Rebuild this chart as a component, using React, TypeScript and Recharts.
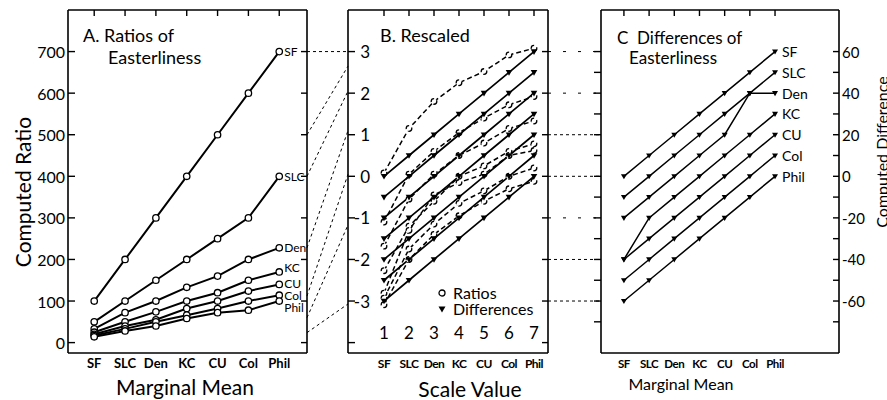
import React from "react";
import { LineChart, Line, XAxis, YAxis, ReferenceLine, LabelList } from "recharts";

const cities = ["SF", "SLC", "Den", "KC", "CU", "Col", "Phil"];
const steps = [1, 2, 3, 4, 5, 6, 7];

// A. computed ratios, one list per labelled line (SF ... Phil)
const ratioLines = [
  [100, 200, 300, 400, 500, 600, 700],
  [50, 100, 150, 200, 250, 300, 400],
  [33, 72, 100, 133, 160, 200, 228],
  [25, 50, 74, 100, 120, 150, 170],
  [20, 40, 55, 82, 100, 124, 140],
  [17, 33, 50, 66, 82, 100, 114],
  [14, 28, 40, 58, 72, 78, 100],
];
const ratioTicks = [0, 100, 200, 300, 400, 500, 600, 700];

// B. both sets rescaled
const rescaledRatios = [
  [0.08, 1.15, 1.8, 2.25, 2.52, 2.92, 3.08],
  [-1.1, 0.05, 0.6, 1.05, 1.4, 1.72, 1.92],
  [-1.68, -0.55, 0.05, 0.5, 0.8, 1.15, 1.33],
  [-2.27, -1.2, -0.6, 0.0, 0.25, 0.6, 0.78],
  [-2.81, -1.3, -0.45, -0.15, 0.05, 0.5, 0.62],
  [-2.93, -1.75, -1.15, -0.65, -0.35, 0.0, 0.2],
  [-3.09, -2.0, -1.4, -0.95, -0.6, -0.3, -0.12],
];
const rescaledDiffs = [
  [0, 0.5, 1, 1.5, 2, 2.5, 3],
  [-0.5, 0, 0.5, 1, 1.5, 2, 2.5],
  [-1, -0.5, 0, 0.5, 1, 1.5, 2],
  [-1.5, -1, -0.5, 0, 0.5, 1, 1.5],
  [-2, -1.5, -1, -0.5, 0, 0.5, 1],
  [-2.5, -2, -1.5, -1, -0.5, 0, 0.5],
  [-3, -2.5, -2, -1.5, -1, -0.5, 0],
];
const scaleTicks = [-4, -3, -2, -1, 0, 1, 2, 3];

// C. computed differences
const diffLines = [
  [0, 10, 20, 30, 40, 50, 60],
  [-10, 0, 10, 20, 30, 40, 50],
  [-20, -10, 0, 10, 20, 40, 40],
  [-40, -20, -10, 0, 10, 20, 30],
  [-40, -30, -20, -10, 0, 10, 20],
  [-50, -40, -30, -20, -10, 0, 10],
  [-60, -50, -40, -30, -20, -10, 0],
];
const diffTicks = [-70, -60, -50, -40, -30, -20, -10, 0, 10, 20, 30, 40, 50, 60];
const diffLabelTicks = [-60, -40, -20, 0, 20, 40, 60];

// dashed guides: ratio in A -> scale value in B
const guideFrom = [700, 500, 400, 228, 112, 60, 24];
const guideTo = [3, 2.65, 2.05, 1.1, 0.05, -1.17, -3.07];
// dashed guides: scale value in B -> difference in C
const guideLevels = [3, 2, 1, 0, -1, -2, -3];

const FONT = "Lato, 'DejaVu Sans', sans-serif";
const frame = { stroke: "#000", strokeWidth: 1.6 };

// plot box of each panel inside its own svg
const boxA = { top: 10, right: 43, bottom: 47, left: 68 };
const boxB = { top: 10, right: 53, bottom: 47, left: 18 };
const boxC = { top: 10, right: 48, bottom: 47, left: 11 };
// axes need a non-zero size to be drawn, so 1px is taken from each margin
const shrink = (m: typeof boxA) => ({ top: m.top - 1, right: m.right - 1, bottom: m.bottom - 1, left: m.left - 1 });

const toRows = (sets: Record<string, number[][]>) =>
  steps.map((x, i) => {
    const row: Record<string, number> = { x };
    Object.entries(sets).forEach(([p, lines]) => lines.forEach((l, k) => (row[p + k] = l[i])));
    return row;
  });

const rowsA = toRows({ s: ratioLines });
const rowsB = toRows({ r: rescaledRatios, d: rescaledDiffs });
const rowsC = toRows({ s: diffLines });

const tickLine = (x1: number, y1: number, x2: number, y2: number) => (
  <line x1={x1} y1={y1} x2={x2} y2={y2} stroke="#000" strokeWidth={1.4} />
);

const TopTick = (p: any) => <g>{tickLine(p.x, p.y, p.x, p.y + 6)}</g>;
const RightTick = (p: any) => <g>{tickLine(p.x - 6, p.y, p.x, p.y)}</g>;

const LeftTickA = (p: any) => (
  <g>
    {tickLine(boxA.left, p.y, boxA.left + 7, p.y)}
    <text x={boxA.left - 3} y={p.y} textAnchor="end" dominantBaseline="central" fontSize={16} fontFamily={FONT}>
      {p.payload.value}
    </text>
  </g>
);
const BottomA = (p: any) => (
  <text x={p.x} y={p.y + 10} textAnchor="middle" dominantBaseline="central" fontSize={13} fontWeight="bold" fontFamily={FONT}>
    {cities[p.payload.value - 1]}
  </text>
);

const LeftTickB = (p: any) => (
  <g>
    {tickLine(boxB.left, p.y, boxB.left + 7, p.y)}
    {p.payload.value >= -3 && (
      <text x={boxB.left + 22} y={p.y} textAnchor="end" dominantBaseline="central" fontSize={17} fontFamily={FONT}>
        {p.payload.value}
      </text>
    )}
  </g>
);
const BottomB = (p: any) => (
  <g>
    <text x={p.x} y={p.y - 21} textAnchor="middle" dominantBaseline="central" fontSize={17} fontFamily={FONT}>
      {p.payload.value}
    </text>
    <text x={p.x} y={p.y + 10} textAnchor="middle" dominantBaseline="central" fontSize={12} fontWeight="bold" fontFamily={FONT} letterSpacing={-0.5}>
      {cities[p.payload.value - 1]}
    </text>
  </g>
);

const LeftTickC = (p: any) => <g>{tickLine(boxC.left - 7, p.y, boxC.left, p.y)}</g>;
const RightTickC = (p: any) => (
  <g>
    {tickLine(p.x - 6, p.y, p.x, p.y)}
    {diffLabelTicks.includes(p.payload.value) && (
      <text x={p.x + 3} y={p.y} textAnchor="start" dominantBaseline="central" fontSize={15} fontFamily={FONT}>
        {p.payload.value}
      </text>
    )}
  </g>
);
const BottomC = (p: any) => (
  <text x={p.x} y={p.y + 10} textAnchor="middle" dominantBaseline="central" fontSize={11.5} fontWeight="bold" fontFamily={FONT} letterSpacing={-0.4}>
    {cities[p.payload.value - 1]}
  </text>
);

const circleDot = (r: number) => ({ r, fill: "#fff", stroke: "#000", strokeWidth: 1.3 });

const triDot = (s: number) => (p: any) => {
  const { cx, cy, index } = p;
  if (cx == null || cy == null) return <g key={index} />;
  return <path key={index} d={`M${cx - s},${cy - s * 0.7} L${cx + s},${cy - s * 0.7} L${cx},${cy + s} Z`} fill="#000" />;
};

const endLabel = (name: string, size: number, dx: number, dy = 0) => (p: any) => {
  if (p.index !== 6) return null;
  return (
    <text x={p.x + dx} y={p.y + dy} dominantBaseline="central" fontSize={size} fontFamily={FONT}>
      {name}
    </text>
  );
};
const nudgeA = [0, 0, 0, -4, -1, 0, 6];

const Txt = ({ x, y, size, rotate, anchor = "middle", children }: any) => (
  <div
    style={{
      position: "absolute",
      left: x,
      top: y,
      fontSize: size,
      fontFamily: FONT,
      whiteSpace: "nowrap",
      lineHeight: 1,
      transform: `translate(${anchor === "start" ? "0" : "-50%"},-50%)${rotate ? " rotate(-90deg)" : ""}`,
    }}
  >
    {children}
  </div>
);

const axisCommon = { allowDataOverflow: true, interval: 0 as const, tickSize: 0, tickMargin: 0, tickLine: false, axisLine: frame };

const App = () => (
  <div style={{ position: "absolute", left: 0, top: 0, width: 887, height: 400, background: "#fff", overflow: "hidden" }}>
    {/* A */}
    <div style={{ position: "absolute", left: 0, top: 0 }}>
      <LineChart width={350} height={400} data={rowsA} margin={shrink(boxA)}>
        <XAxis {...axisCommon} dataKey="x" type="number" domain={[0.15, 7.9]} ticks={steps} height={1} tick={BottomA} />
        <XAxis {...axisCommon} xAxisId="top" dataKey="x" orientation="top" type="number" domain={[0.15, 7.9]} ticks={steps} height={1} tick={TopTick} />
        <YAxis {...axisCommon} type="number" domain={[-25, 800]} ticks={ratioTicks} width={1} tick={LeftTickA} />
        <YAxis {...axisCommon} yAxisId="r" orientation="right" type="number" domain={[-25, 800]} ticks={ratioTicks} width={1} tick={RightTick} />
        {guideFrom.map((a, i) => (
          <ReferenceLine key={"g" + i} segment={[{ x: 7.9, y: a }, { x: 9.23, y: (guideTo[i] + 4) * 100 }]} stroke="#000" strokeWidth={1} strokeDasharray="3 3" ifOverflow="visible" />
        ))}
        {ratioLines.map((_, i) => (
          <Line key={i} dataKey={"s" + i} stroke="#000" strokeWidth={2} dot={circleDot(3.2)} isAnimationActive={false}>
            <LabelList content={endLabel(cities[i], 12, 5, nudgeA[i])} />
          </Line>
        ))}
      </LineChart>
    </div>

    {/* B */}
    <div style={{ position: "absolute", left: 330, top: 0 }}>
      <LineChart width={271} height={400} data={rowsB} margin={shrink(boxB)}>
        <XAxis {...axisCommon} dataKey="x" type="number" domain={[-0.44, 7.56]} ticks={steps} height={1} tick={BottomB} />
        <XAxis {...axisCommon} xAxisId="top" dataKey="x" orientation="top" type="number" domain={[-0.44, 7.56]} ticks={steps} height={1} tick={TopTick} />
        <YAxis {...axisCommon} type="number" domain={[-4.25, 4]} ticks={scaleTicks} width={1} tick={LeftTickB} />
        <YAxis {...axisCommon} yAxisId="r" orientation="right" type="number" domain={[-4.25, 4]} ticks={scaleTicks} width={1} tick={RightTick} />
        {guideLevels.map((b) => (
          <ReferenceLine key={"h" + b} segment={[{ x: 7.56, y: b }, { x: 9.7, y: b }]} stroke="#000" strokeWidth={1} strokeDasharray={[1, 0, -2, -3].includes(b) ? "3 3" : "3 12"} ifOverflow="visible" />
        ))}
        {rescaledRatios.map((_, i) => (
          <Line key={"r" + i} dataKey={"r" + i} stroke="#000" strokeWidth={1.5} strokeDasharray="5 3" dot={circleDot(2.8)} isAnimationActive={false} />
        ))}
        {rescaledDiffs.map((_, i) => (
          <Line key={"d" + i} dataKey={"d" + i} stroke="#000" strokeWidth={1.7} dot={triDot(3.3)} isAnimationActive={false} />
        ))}
      </LineChart>
    </div>

    {/* C */}
    <div style={{ position: "absolute", left: 590, top: 0 }}>
      <LineChart width={297} height={400} data={rowsC} margin={shrink(boxC)}>
        <XAxis {...axisCommon} dataKey="x" type="number" domain={[0.09, 9.54]} ticks={steps} height={1} tick={BottomC} />
        <XAxis {...axisCommon} xAxisId="top" dataKey="x" orientation="top" type="number" domain={[0.09, 9.54]} ticks={steps} height={1} tick={TopTick} />
        <YAxis {...axisCommon} type="number" domain={[-85, 80]} ticks={diffTicks} width={1} tick={LeftTickC} />
        <YAxis {...axisCommon} yAxisId="r" orientation="right" type="number" domain={[-85, 80]} ticks={diffTicks} width={1} tick={RightTickC} />
        {diffLines.map((_, i) => (
          <Line key={i} dataKey={"s" + i} stroke="#000" strokeWidth={1.5} dot={triDot(3)} isAnimationActive={false}>
            <LabelList content={endLabel(cities[i], 14, 7)} />
          </Line>
        ))}
      </LineChart>
    </div>

    <Txt x={83} y={35} size={18} anchor="start">A. Ratios of</Txt>
    <Txt x={108} y={57} size={18} anchor="start">Easterliness</Txt>
    <Txt x={380} y={35} size={18} anchor="start">B. Rescaled</Txt>
    <Txt x={617} y={37} size={17} anchor="start">C&nbsp; Differences of</Txt>
    <Txt x={629} y={57} size={17} anchor="start">Easterliness</Txt>

    <Txt x={22} y={192} size={21} rotate>Computed Ratio</Txt>
    <Txt x={185} y={386} size={21}>Marginal Mean</Txt>
    <Txt x={470} y={388} size={21}>Scale Value</Txt>
    <Txt x={681} y={384} size={16}>Marginal Mean</Txt>
    <Txt x={882} y={152} size={16} rotate>Computed Difference</Txt>

    <div style={{ position: "absolute", left: 437, top: 285, fontFamily: FONT, fontSize: 16, lineHeight: "16px" }}>
      <div style={{ display: "flex", alignItems: "center", gap: 6 }}>
        <svg width={10} height={10}><circle cx={5} cy={5} r={3} fill="#fff" stroke="#000" strokeWidth={1.3} /></svg>
        <span>Ratios</span>
      </div>
      <div style={{ display: "flex", alignItems: "center", gap: 6 }}>
        <svg width={10} height={10}><path d="M1.5,2.5 L8.5,2.5 L5,8.5 Z" fill="#000" /></svg>
        <span>Differences</span>
      </div>
    </div>
  </div>
);

export default App;
